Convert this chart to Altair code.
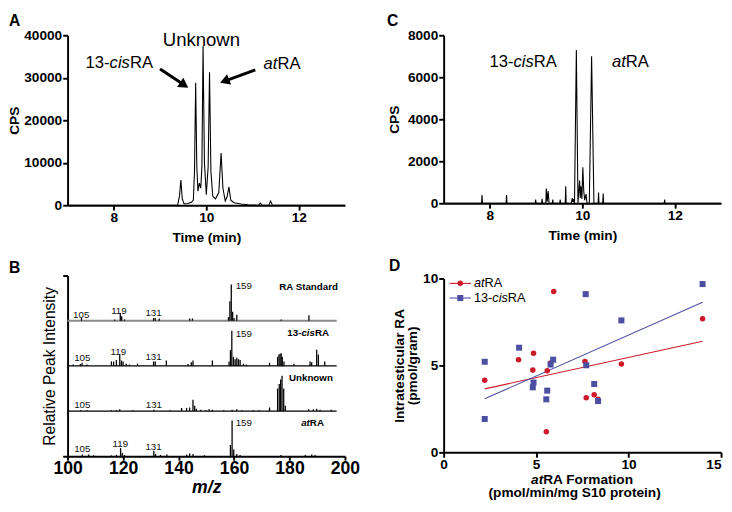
import altair as alt
import pandas as pd

FONT = "Liberation Sans"

# ---------------- Panel A: chromatogram (Time in min, CPS) ----------------
a_time = [7.0, 9.38, 9.42, 9.45, 9.48, 9.52, 9.60, 9.68, 9.72, 9.745, 9.77, 9.795, 9.82, 9.85,
          9.88, 9.905, 9.93, 9.96, 10.00, 10.04, 10.07, 10.10, 10.14, 10.20, 10.27, 10.32, 10.36,
          10.41, 10.45, 10.49, 10.53, 10.60, 10.75, 10.90, 11.13, 11.17, 11.21, 11.35, 11.39,
          11.43, 13.0]
a_cps = [0, 0, 2200, 5900, 1500, 300, 400, 700, 1200, 8000, 28800, 9000, 3300, 5200,
         4000, 9000, 37500, 10000, 2500, 9000, 31300, 8000, 2100, 1500, 3000, 12300, 4000,
         1000, 2000, 4300, 1200, 600, 300, 100, 0, 500, 0, 0, 1000,
         0, 0]

# ---------------- Panel C: chromatogram ----------------
c_time = [7.0, 7.82, 7.83, 7.84, 8.35, 8.36, 8.37, 8.98, 8.99, 9.0, 9.12, 9.13, 9.14, 9.21,
          9.22, 9.24, 9.26, 9.28, 9.35, 9.36, 9.37, 9.51, 9.52, 9.53, 9.63, 9.64, 9.65, 9.76,
          9.78, 9.795, 9.81, 9.83, 9.87, 9.905, 9.94, 9.955, 9.97, 9.99, 10.01, 10.03, 10.05,
          10.08, 10.10, 10.15, 10.20, 10.25, 10.34, 10.35, 10.36, 10.44, 10.45, 10.46, 11.77,
          11.78, 11.79, 13.0]
c_cps = [0, 0, 390, 0, 0, 390, 0, 0, 180, 0, 0, 210, 0, 0,
         700, 80, 580, 0, 0, 180, 0, 0, 180, 0, 0, 810, 0, 0,
         250, 60, 200, 0, 7300, 0, 1080, 250, 810, 200, 1710, 590, 150,
         435, 0, 0, 7000, 0, 0, 510, 0, 0, 465, 0, 0,
         180, 0, 0]

# ---------------- Panel B: mass spectra (m/z, relative intensity) ----------------
spectrum_names = ["RA Standard", "13-cisRA", "Unknown", "atRA"]
std_mz = [105, 117, 119, 119.5, 120.5, 131, 131.6, 133, 144, 145, 158, 158.5, 159, 159.5, 160, 161, 177, 187]
std_int = [0.06, 0.03, 0.17, 0.10, 0.03, 0.06, 0.06, 0.05, 0.05, 0.05, 0.08, 0.43, 0.80, 0.20, 0.06, 0.13, 0.03, 0.12]
cis_mz = [102, 104.6, 105.2, 107, 115.8, 116.6, 117.6, 118.8, 119.4, 120, 121.1, 122.3, 125.2, 131,
          131.6, 135.6, 143.4, 144.6, 145.2, 152.2, 158.2, 158.7, 159.2, 159.8, 160.4, 161, 161.6,
          162.2, 163.4, 164.5, 172.8, 175.7, 176.2, 176.6, 177, 177.4, 178, 181.6, 187.4, 188,
          189.8, 190.4, 192.7]
cis_int = [0.03, 0.04, 0.07, 0.03, 0.10, 0.10, 0.13, 0.25, 0.12, 0.10, 0.05, 0.03, 0.05, 0.10,
           0.10, 0.12, 0.04, 0.08, 0.12, 0.12, 0.10, 0.35, 0.78, 0.20, 0.15, 0.18, 0.15,
           0.13, 0.05, 0.03, 0.07, 0.20, 0.25, 0.27, 0.28, 0.20, 0.10, 0.05, 0.10, 0.08,
           0.36, 0.25, 0.10]
unk_mz = [104.7, 107, 115.8, 117.6, 118.8, 123.5, 131.1, 137, 141.1, 142.9, 144, 145.2, 145.8,
          146.4, 148, 149.9, 151, 152.2, 156.3, 159.3, 161, 162.8, 166.9, 169, 172.8, 175.7,
          176.3, 176.8, 177.3, 177.9, 178.5, 186.9, 188.6, 189.8, 191, 195]
unk_int = [0.02, 0.02, 0.02, 0.02, 0.04, 0.02, 0.03, 0.02, 0.07, 0.07, 0.08, 0.25, 0.12,
           0.05, 0.03, 0.02, 0.04, 0.03, 0.02, 0.03, 0.04, 0.02, 0.02, 0.02, 0.08, 0.50,
           0.60, 0.70, 0.78, 0.50, 0.12, 0.04, 0.04, 0.05, 0.03, 0.03]
at_mz = [105.3, 107.6, 109.4, 115.8, 117.6, 119.1, 119.7, 120.5, 131.1, 131.7, 133.5, 135.8,
         142.9, 144, 145.2, 149.3, 158.7, 159.3, 159.9, 161, 162.2, 176.9, 185.7, 188, 189.2]
at_int = [0.04, 0.04, 0.02, 0.02, 0.03, 0.18, 0.08, 0.03, 0.12, 0.05, 0.03, 0.04,
          0.04, 0.06, 0.05, 0.02, 0.25, 0.79, 0.15, 0.05, 0.03, 0.03, 0.03, 0.04, 0.03]

# peak-number annotations: spectrum index, m/z, text, height above baseline
pl_spec = [0, 0, 0, 0, 1, 1, 1, 1, 2, 2, 3, 3, 3, 3]
pl_mz = [104.9, 118.5, 131.0, 160.6, 105.3, 118.3, 131.0, 160.6, 105.3, 131.1, 105.3, 119.0, 131.0, 160.6]
pl_text = ["105", "119", "131", "159", "105", "119", "131", "159", "105", "131", "105", "119", "131", "159"]
pl_rise = [0.13, 0.22, 0.165, 0.76, 0.17, 0.31, 0.20, 0.71, 0.14, 0.14, 0.17, 0.28, 0.20, 0.74]
name_mz = [176.3, 179.2, 179.8, 184.2]
name_rise = 0.67

# ---------------- Panel D: scatter ----------------
at_x = [2.22, 4.05, 4.86, 4.82, 5.95, 5.78, 5.60, 5.55, 7.64, 7.71, 8.14, 8.35, 9.61, 14.0]
at_y = [4.15, 5.33, 5.70, 4.73, 9.25, 5.14, 4.69, 1.19, 5.23, 3.14, 3.31, 3.05, 5.08, 7.68]
cis_x = [2.22, 2.22, 4.08, 4.86, 4.82, 5.92, 5.78, 5.60, 5.55, 7.68, 7.71, 8.14, 8.35, 9.61, 14.0]
cis_y = [5.21, 1.92, 6.02, 4.02, 3.74, 5.33, 5.05, 3.55, 3.05, 9.10, 5.01, 3.93, 2.95, 7.59, 9.68]
fit_x = [2.22, 14.0]
at_fit_y = [3.65, 6.39]
cis_fit_y = [3.08, 8.64]

RED = "#cc1a2a"
BLUE = "#4d4fa3"

# ---------------- text helpers (Arial / Liberation Sans advance widths) ----------------
WR = {'1': .556, '3': .556, '0': .556, '-': .333, 'c': .5, 'i': .222, 's': .5, 'R': .722, 'A': .667,
      'a': .556, 't': .278, ' ': .278}
WB = {'1': .556, '3': .556, '0': .556, '-': .333, 'c': .556, 'i': .278, 's': .556, 'R': .722, 'A': .722,
      'a': .556, 't': .333, ' ': .278, 'F': .611, 'o': .611, 'r': .389, 'm': .889, 'n': .611,
      'S': .667, 'd': .611, 'U': .722, 'k': .556, 'w': .778}


def tw(s, size, bold):
    tbl = WB if bold else WR
    return sum(tbl.get(c, 0.556) for c in s) * size


ONE = pd.DataFrame({"k": [0]})


def rich(data, x, y, segments, size, bold=False, center=False, baseline="alphabetic", color="black"):
    total = sum(tw(s, size, bold) for s, _ in segments)
    dx = -total / 2 if center else 0.0
    out = []
    for s, it in segments:
        out.append(alt.Chart(data).mark_text(
            text=s, align="left", baseline=baseline, dx=dx, font=FONT, fontSize=size,
            fontWeight="bold" if bold else "normal", fontStyle="italic" if it else "normal",
            color=color).encode(x=x, y=y))
        dx += tw(s, size, bold)
    return out


def letter(ch, dx, dy):
    return alt.Chart(ONE).mark_text(text=ch, align="left", baseline="alphabetic", font=FONT,
                                    fontSize=16, fontWeight="bold", color="black").encode(
        x=alt.value(dx), y=alt.value(dy))


W = 284

# ================= Panel A =================
HA = 174
xa = alt.X("t:Q", scale=alt.Scale(domain=[7, 13], nice=False, zero=False),
           axis=alt.Axis(values=[8, 10, 12], format="d", title="Time (min)", titlePadding=6))
ya = alt.Y("cps:Q", scale=alt.Scale(domain=[0, 40000], nice=False),
           axis=alt.Axis(values=[0, 10000, 20000, 30000, 40000], format="d", title="CPS"))
lineA = alt.Chart(pd.DataFrame({"t": a_time, "cps": a_cps})).mark_line(
    color="black", strokeWidth=1.1).encode(x=xa, y=ya)

unknownA = alt.Chart(pd.DataFrame({"t": [9.894], "cps": [38900]})).mark_text(
    text="Unknown", align="center", font=FONT, fontSize=19, color="black").encode(x=xa, y=ya)
cisA = rich(pd.DataFrame({"t": [7.39], "cps": [32230]}), xa, ya,
            [("13-", False), ("cis", True), ("RA", False)], 17)
atA = rich(pd.DataFrame({"t": [11.24], "cps": [32000]}), xa, ya, [("at", True), ("RA", False)], 17)

arrow_df = pd.DataFrame({"t": [9.0, 11.06], "cps": [32070, 31860],
                         "t2": [9.523, 10.396], "cps2": [28300, 29210]})
arrowsA = alt.Chart(arrow_df).mark_rule(color="black", strokeWidth=3).encode(
    x=xa, y=ya, x2="t2:Q", y2="cps2:Q")
head1 = alt.Chart(pd.DataFrame({"t": [9.523], "cps": [28300]})).mark_point(
    shape="triangle-up", filled=True, color="black", size=130, opacity=1, angle=124).encode(x=xa, y=ya)
head2 = alt.Chart(pd.DataFrame({"t": [10.396], "cps": [29210]})).mark_point(
    shape="triangle-up", filled=True, color="black", size=130, opacity=1, angle=249).encode(x=xa, y=ya)

panelA = alt.layer(lineA, unknownA, *cisA, *atA, arrowsA, head1, head2,
                   letter("A", -60, -9)).properties(width=W, height=HA)

# ================= Panel C =================
HC = 172
xc = alt.X("t:Q", scale=alt.Scale(domain=[7, 13], nice=False, zero=False),
           axis=alt.Axis(values=[8, 10, 12], format="d", title="Time (min)", titlePadding=6))
yc = alt.Y("cps:Q", scale=alt.Scale(domain=[0, 8000], nice=False),
           axis=alt.Axis(values=[0, 2000, 4000, 6000, 8000], format="d", title="CPS", titlePadding=6))
lineC = alt.Chart(pd.DataFrame({"t": c_time, "cps": c_cps})).mark_line(
    color="black", strokeWidth=1.1).encode(x=xc, y=yc)
cisC = rich(pd.DataFrame({"t": [7.99], "cps": [6470]}), xc, yc,
            [("13-", False), ("cis", True), ("RA", False)], 17)
atC = rich(pd.DataFrame({"t": [10.64], "cps": [6470]}), xc, yc, [("at", True), ("RA", False)], 17)
panelC = alt.layer(lineC, *cisC, *atC, letter("C", -58, -9)).properties(width=W, height=HC)

# ================= Panel B =================
HB = 185
xb = alt.X("mz:Q", scale=alt.Scale(domain=[100, 200], nice=False, zero=False),
           axis=alt.Axis(values=[100, 120, 140, 160, 180, 200], format="d", title="m/z",
                         labelFontSize=18, labelPadding=0, tickSize=4,
                         titleFontStyle="italic", titleFontSize=18, titlePadding=1))
yb = alt.Y("lvl:Q", scale=alt.Scale(domain=[0, 4], nice=False),
           axis=alt.Axis(values=[0, 4], labels=False, title="Relative Peak Intensity",
                         titleFontWeight="normal", titleFontSize=16, titlePadding=4))

spectra = [std_mz, cis_mz, unk_mz, at_mz]
intens = [std_int, cis_int, unk_int, at_int]
rows = []
for i, name in enumerate(spectrum_names):
    lvl = len(spectrum_names) - 1 - i
    for m, v in zip(spectra[i], intens[i]):
        rows.append({"mz": m, "lvl": lvl, "lvl2": lvl + v, "spectrum": name})
peaksB = alt.Chart(pd.DataFrame(rows)).mark_rule(color="black", strokeWidth=1.3).encode(
    x=xb, y=yb, y2="lvl2:Q")

base_std = alt.Chart(pd.DataFrame({"mz": [100], "mz2": [197], "lvl": [3]})).mark_rule(
    color="#8a8a8a", strokeWidth=2).encode(x=xb, x2="mz2:Q", y=yb)
base_oth = alt.Chart(pd.DataFrame({"mz": [100, 100], "mz2": [197, 197], "lvl": [2, 1]})).mark_rule(
    color="black", strokeWidth=1.2).encode(x=xb, x2="mz2:Q", y=yb)

pl_rows = [{"mz": m, "lvl": (len(spectrum_names) - 1 - s) + r, "txt": t}
           for s, m, t, r in zip(pl_spec, pl_mz, pl_text, pl_rise)]
pl_df = pd.DataFrame(pl_rows)
plC = alt.Chart(pl_df[pl_df.txt != "159"]).mark_text(
    align="center", font=FONT, fontSize=10, color="#111111").encode(x=xb, y=yb, text="txt:N")
plL = alt.Chart(pl_df[pl_df.txt == "159"]).mark_text(
    align="left", font=FONT, fontSize=10, color="#111111").encode(x=xb, y=yb, text="txt:N")

name_segs = [[("RA Standard", False)], [("13-", False), ("cis", True), ("RA", False)],
             [("Unknown", False)], [("at", True), ("RA", False)]]
names_layers = []
for i, segs in enumerate(name_segs):
    lvl = len(spectrum_names) - 1 - i
    names_layers += rich(pd.DataFrame({"mz": [name_mz[i]], "lvl": [lvl + name_rise]}), xb, yb,
                         segs, 10, bold=True)

panelB = alt.layer(base_std, base_oth, peaksB, plC, plL, *names_layers,
                   letter("B", -60, -3)).properties(width=W, height=HB)

# ================= Panel D =================
HD = 178
xd = alt.X("x:Q", scale=alt.Scale(domain=[0, 15], nice=False),
           axis=alt.Axis(values=[0, 5, 10, 15], title=None, labelPadding=1,
                         labelAlign=alt.ConditionalAxisLabelAlign(
                             condition={"test": "datum.value == 15", "value": "right"},
                             value="center")))
yd = alt.Y("y:Q", scale=alt.Scale(domain=[0, 10], nice=False),
           axis=alt.Axis(values=[0, 5, 10], title=["Intratesticular RA", "(pmol/gram)"],
                         titleLineHeight=14, titlePadding=3))

fitD = alt.Chart(pd.DataFrame({"x": fit_x * 2, "y": at_fit_y + cis_fit_y,
                               "s": ["atRA"] * 2 + ["13-cisRA"] * 2})).mark_line(strokeWidth=1.1).encode(
    x=xd, y=yd, detail="s:N",
    color=alt.Color("s:N", scale=alt.Scale(domain=["atRA", "13-cisRA"], range=[RED, BLUE]), legend=None))
ptsAt = alt.Chart(pd.DataFrame({"x": at_x, "y": at_y})).mark_point(
    shape="circle", filled=True, size=32, color=RED, opacity=1).encode(x=xd, y=yd)
ptsCis = alt.Chart(pd.DataFrame({"x": cis_x, "y": cis_y})).mark_point(
    shape="square", filled=True, size=38, color=BLUE, opacity=1).encode(x=xd, y=yd)

legD = [
    alt.Chart(ONE).mark_rule(color=RED, strokeWidth=1.1).encode(
        x=alt.value(6), x2=alt.value(28), y=alt.value(5)),
    alt.Chart(ONE).mark_point(shape="circle", filled=True, size=32, color=RED, opacity=1).encode(
        x=alt.value(17), y=alt.value(5)),
    alt.Chart(ONE).mark_rule(color=BLUE, strokeWidth=1.1).encode(
        x=alt.value(6), x2=alt.value(28), y=alt.value(20)),
    alt.Chart(ONE).mark_point(shape="square", filled=True, size=38, color=BLUE, opacity=1).encode(
        x=alt.value(17), y=alt.value(20)),
]
legD += rich(ONE, alt.value(31), alt.value(5), [("at", True), ("RA", False)], 13, baseline="middle")
legD += rich(ONE, alt.value(31), alt.value(20), [("13-", False), ("cis", True), ("RA", False)], 13,
             baseline="middle")

xtitleD = rich(ONE, alt.value(W / 2), alt.value(HD + 32), [("at", True), ("RA Formation", False)], 14,
               bold=True, center=True)
xtitleD += rich(ONE, alt.value(W / 2), alt.value(HD + 46), [("(pmol/min/mg S10 protein)", False)], 14,
                bold=True, center=True)

panelD = alt.layer(fitD, ptsAt, ptsCis, *legD, *xtitleD, letter("D", -56, -8)).properties(
    width=W, height=HD)

chart = alt.hconcat(
    alt.vconcat(panelA, panelB, spacing=16),
    alt.vconcat(panelC, panelD, spacing=16),
    spacing=27,
).properties(padding=0, background="white").configure_view(stroke=None).configure_axis(
    domainColor="black", domainWidth=2, tickColor="black", tickWidth=2, tickSize=5,
    labelFont=FONT, labelFontSize=14, labelFontWeight="bold", labelColor="black",
    titleFont=FONT, titleFontSize=14, titleFontWeight="bold", titleColor="black",
    labelPadding=1, titlePadding=2, labelFlush=False, grid=False)

chart.save("out.html", embed_options={"renderer": "svg", "actions": False})
